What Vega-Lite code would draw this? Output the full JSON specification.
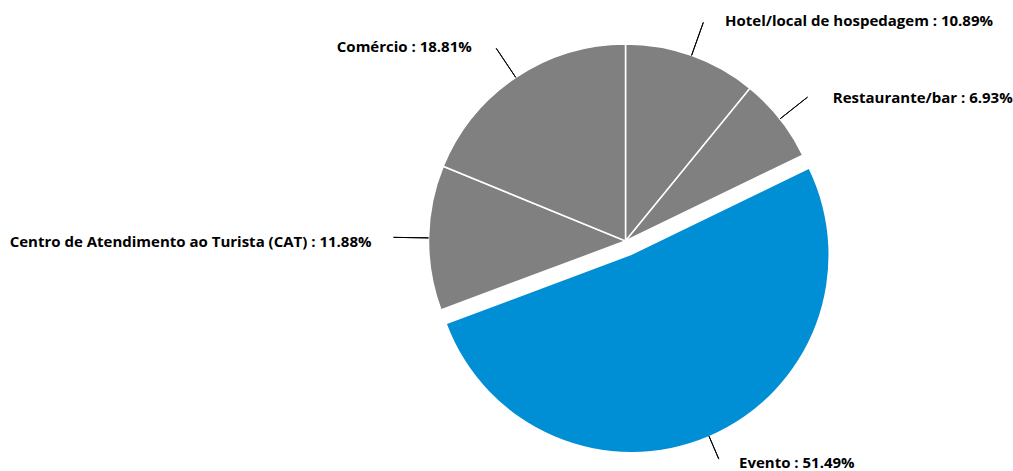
{
  "$schema": "https://vega.github.io/schema/vega-lite/v6.json",
  "autosize": {"type": "none"},
  "width": 775,
  "height": 458,
  "padding": {"left": 238, "top": 12, "right": 0, "bottom": 1},
  "background": "white",
  "config": {"view": {"stroke": null}, "text": {"font": "Open Sans", "fontWeight": "bold", "fontSize": 15, "fill": "#000000"}},
  "data": {"values": [
    {"category": "Hotel/local de hospedagem", "value": 10.89, "order": 1, "label": "Hotel/local de hospedagem : 10.89%"},
    {"category": "Restaurante/bar", "value": 6.93, "order": 2, "label": "Restaurante/bar : 6.93%"},
    {"category": "Evento", "value": 51.49, "order": 3, "label": "Evento : 51.49%"},
    {"category": "Centro de Atendimento ao Turista (CAT)", "value": 11.88, "order": 4, "label": "Centro de Atendimento ao Turista (CAT) : 11.88%"},
    {"category": "Comércio", "value": 18.81, "order": 5, "label": "Comércio : 18.81%"}
  ]},
  "layer": [
    {
      "mark": {"type": "arc", "outerRadius": 197, "stroke": "white", "strokeWidth": 1.5},
      "encoding": {
        "theta": {"field": "value", "type": "quantitative", "stack": true},
        "order": {"field": "order", "type": "quantitative"},
        "color": {"field": "category", "type": "nominal", "legend": null,
          "scale": {"domain": ["Hotel/local de hospedagem", "Restaurante/bar", "Evento", "Centro de Atendimento ao Turista (CAT)", "Comércio"],
                    "range": ["#808080", "#808080", "#008FD5", "#808080", "#808080"]}},
        "opacity": {"condition": {"test": "datum.category === 'Evento'", "value": 0}, "value": 1}
      }
    },
    {
      "mark": {"type": "arc", "outerRadius": 197, "stroke": "white", "strokeWidth": 0, "xOffset": 6, "yOffset": 14},
      "encoding": {
        "theta": {"field": "value", "type": "quantitative", "stack": true},
        "order": {"field": "order", "type": "quantitative"},
        "color": {"field": "category", "type": "nominal", "legend": null},
        "opacity": {"condition": {"test": "datum.category === 'Evento'", "value": 1}, "value": 0}
      }
    },
    {
      "transform": [
        {"stack": "value", "groupby": [], "as": ["s0", "s1"], "sort": [{"field": "order"}]},
        {"fold": ["s0", "s1"], "as": ["k", "v"]},
        {"aggregate": [{"op": "mean", "field": "v", "as": "mid"}], "groupby": ["category", "label"]},
        {"filter": "datum.category !== 'Evento'"}
      ],
      "mark": {"type": "arc", "innerRadius": 197, "outerRadius": 232, "stroke": "#000000", "strokeWidth": 1, "fill": "transparent"},
      "encoding": {
        "theta": {"field": "mid", "type": "quantitative"},
        "theta2": {"field": "mid"}
      }
    },
    {
      "transform": [
        {"stack": "value", "groupby": [], "as": ["s0", "s1"], "sort": [{"field": "order"}]},
        {"fold": ["s0", "s1"], "as": ["k", "v"]},
        {"aggregate": [{"op": "mean", "field": "v", "as": "mid"}], "groupby": ["category", "label"]},
        {"filter": "datum.category === 'Evento'"}
      ],
      "mark": {"type": "arc", "innerRadius": 197, "outerRadius": 222, "stroke": "#000000", "strokeWidth": 1, "fill": "transparent", "xOffset": 6, "yOffset": 14},
      "encoding": {
        "theta": {"field": "mid", "type": "quantitative"},
        "theta2": {"field": "mid"}
      }
    },
    {
      "transform": [
        {"stack": "value", "groupby": [], "as": ["s0", "s1"], "sort": [{"field": "order"}]},
        {"fold": ["s0", "s1"], "as": ["k", "v"]},
        {"aggregate": [{"op": "mean", "field": "v", "as": "mid"}], "groupby": ["category", "label"]},
        {"filter": {"field": "category", "oneOf": ["Hotel/local de hospedagem", "Restaurante/bar"]}}
      ],
      "mark": {"type": "text", "radius": 240, "align": "left", "baseline": "middle", "dx": 19, "dy": 6},
      "encoding": {
        "theta": {"field": "mid", "type": "quantitative"},
        "text": {"field": "label"}
      }
    },
    {
      "transform": [
        {"stack": "value", "groupby": [], "as": ["s0", "s1"], "sort": [{"field": "order"}]},
        {"fold": ["s0", "s1"], "as": ["k", "v"]},
        {"aggregate": [{"op": "mean", "field": "v", "as": "mid"}], "groupby": ["category", "label"]},
        {"filter": "datum.category === 'Comércio'"}
      ],
      "mark": {"type": "text", "radius": 240, "align": "right", "baseline": "middle", "dx": -20, "dy": 5},
      "encoding": {
        "theta": {"field": "mid", "type": "quantitative"},
        "text": {"field": "label"}
      }
    },
    {
      "transform": [
        {"stack": "value", "groupby": [], "as": ["s0", "s1"], "sort": [{"field": "order"}]},
        {"fold": ["s0", "s1"], "as": ["k", "v"]},
        {"aggregate": [{"op": "mean", "field": "v", "as": "mid"}], "groupby": ["category", "label"]},
        {"filter": "datum.category === 'Centro de Atendimento ao Turista (CAT)'"}
      ],
      "mark": {"type": "text", "radius": 240, "align": "right", "baseline": "middle", "dx": -14, "dy": 5},
      "encoding": {
        "theta": {"field": "mid", "type": "quantitative"},
        "text": {"field": "label"}
      }
    },
    {
      "transform": [
        {"stack": "value", "groupby": [], "as": ["s0", "s1"], "sort": [{"field": "order"}]},
        {"fold": ["s0", "s1"], "as": ["k", "v"]},
        {"aggregate": [{"op": "mean", "field": "v", "as": "mid"}], "groupby": ["category", "label"]},
        {"filter": "datum.category === 'Evento'"}
      ],
      "mark": {"type": "text", "radius": 225, "align": "left", "baseline": "middle", "dx": 19, "dy": 1, "xOffset": 6, "yOffset": 14},
      "encoding": {
        "theta": {"field": "mid", "type": "quantitative"},
        "text": {"field": "label"}
      }
    }
  ]
}
